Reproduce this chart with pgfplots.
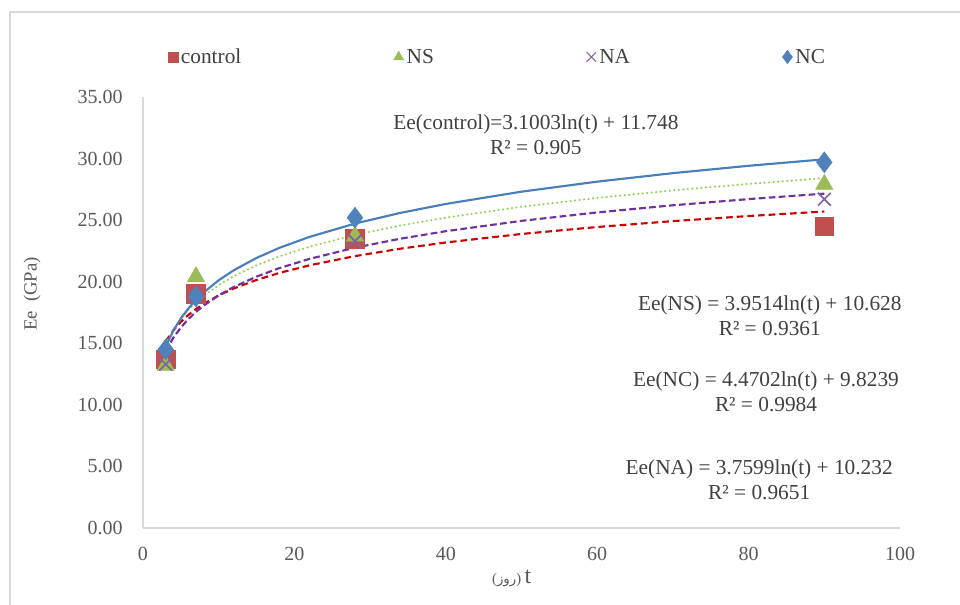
\documentclass[border=0pt]{standalone}
\usepackage{pgfplots}
\pgfplotsset{compat=1.18}
\usepackage{pgfplotstable}
\usepackage{fontspec}
\setmainfont{Liberation Serif}
\newfontfamily\arabicfont[Script=Arabic]{DejaVu Sans}
\TeXXeTstate=1

\definecolor{ctrlred}{HTML}{C0504D}
\definecolor{nsgreen}{HTML}{9BBB59}
\definecolor{napurple}{HTML}{8064A2}
\definecolor{ncblue}{HTML}{4F81BD}
\definecolor{trendred}{HTML}{CC0000}
\definecolor{trendgreen}{HTML}{92D050}
\definecolor{trendpurple}{HTML}{7030A0}
\definecolor{trendblue}{HTML}{4A7EBB}
\definecolor{axisgray}{HTML}{D9D9D9}
\definecolor{tickgray}{HTML}{595959}
\definecolor{textgray}{HTML}{404040}

% measured modulus (GPa) at each age t (days)
\pgfplotstableread{
t   control  NS    NA    NC
3   13.7     13.2  13.3  14.5
7   19.0     20.4  18.8  18.8
28  23.5     23.7  23.3  25.2
90  24.5     27.9  26.7  29.7
}\measured

% logarithmic trend lines evaluated from the fitted equations
\pgfplotstableread{
t   control  NS      NA      NC
3   15.154   14.969  14.363  14.735
4   16.046   16.106  15.444  16.021
5   16.738   16.987  16.283  17.018
6   17.303   17.708  16.969  17.834
7   17.781   18.317  17.548  18.522
8   18.195   18.845  18.050  19.119
10  18.887   19.726  18.890  20.117
12  19.452   20.447  19.575  20.932
15  20.144   21.329  20.414  21.930
18  20.709   22.049  21.100  22.745
22  21.331   22.842  21.854  23.641
28  22.079   23.795  22.761  24.720
34  22.681   24.562  23.491  25.588
40  23.185   25.204  24.102  26.314
50  23.876   26.086  24.941  27.311
60  24.442   26.806  25.626  28.126
70  24.920   27.415  26.206  28.816
80  25.333   27.943  26.708  29.412
90  25.699   28.408  27.151  29.939
}\trend

\begin{document}
\begin{tikzpicture}
\path[use as bounding box] (-107.25pt,-57.75pt) rectangle (612.75pt,396pt);
\begin{axis}[
  at={(0pt,0pt)}, anchor=south west,
  scale only axis, width=567.75pt, height=323.25pt,
  xmin=0, xmax=100, ymin=0, ymax=35,
  axis x line*=bottom, axis y line*=left,
  axis line style={draw=axisgray, line width=0.9pt},
  xtick={0,20,...,100}, ytick={0,5,...,35},
  major tick length=0pt,
  /pgf/number format/assume math mode=true,
  tick label style={font=\fontsize{15}{18}\selectfont, text=tickgray, inner sep=0pt},
  yticklabel style={anchor=east, xshift=-15pt,
    /pgf/number format/.cd, fixed, fixed zerofill, precision=2},
  xticklabel style={anchor=north, yshift=-14pt},
  ylabel={Ee\ \ (GPa)},
  every axis y label/.style={at={(axis description cs:-0.1466,0.543)}, rotate=90, anchor=center,
    font=\fontsize{14}{16}\selectfont, text=tickgray},
  xlabel={{\fontsize{11}{12}\selectfont(}{\arabicfont\fontsize{10}{12}\selectfont\beginR روز\endR}{\fontsize{11}{12}\selectfont)}\ {\fontsize{18}{20}\selectfont t}},
  every axis x label/.style={at={(axis description cs:0.487,-0.118)}, anchor=center, text=tickgray},
  clip=false,
  legend style={at={(axis description cs:0.0304,1.0928)}, anchor=west, draw=none, fill=none,
    inner sep=0pt, font=\fontsize{16}{19}\selectfont, text=textgray,
    nodes={inner sep=1pt},
    /tikz/every odd column/.append style={column sep=0pt},
    /tikz/every even column/.append style={column sep=112pt}},
  legend columns=4,
  legend cell align=left,
  legend image code/.code={\path[draw=none, fill=none] (-5pt,-5pt) rectangle (5pt,5pt);
    \draw[#1] plot coordinates {(0pt,0pt)};},
]
% legend entries
\addlegendimage{only marks, mark=square*, mark size=3.75pt, ctrlred, draw=ctrlred}
\addlegendentry{control}
\addlegendimage{only marks, mark=triangle*, mark size=4.3pt, nsgreen, draw=nsgreen}
\addlegendentry{NS}
\addlegendimage{only marks, mark=x, mark size=5pt, napurple, line width=0.8pt}
\addlegendentry{NA}
\addlegendimage{only marks, mark=diamond*, mark size=5pt, ncblue, draw=ncblue}
\addlegendentry{NC}

% measured points
\addplot[forget plot, only marks, mark=square*, mark size=7pt, color=ctrlred, fill=ctrlred]
  table[x=t, y=control] {\measured};
\addplot[forget plot, only marks, mark=triangle*, mark size=7.5pt, color=nsgreen, fill=nsgreen]
  table[x=t, y=NS] {\measured};
\addplot[forget plot, only marks, mark=x, mark size=6.8pt, color=napurple, mark options={line width=1.3pt}]
  table[x=t, y=NA] {\measured};
\addplot[forget plot, only marks, mark=diamond*, mark size=7.8pt, color=ncblue, fill=ncblue]
  table[x=t, y=NC] {\measured};

% trend lines
\addplot[forget plot, no marks, trendred, line width=1.6pt, dash pattern=on 5pt off 3pt]
  table[x=t, y=control] {\trend};
\addplot[forget plot, no marks, trendgreen, line width=1.8pt, line cap=round, dash pattern=on 0pt off 3.4pt]
  table[x=t, y=NS] {\trend};
\addplot[forget plot, no marks, trendpurple, line width=1.6pt, dash pattern=on 5pt off 2.5pt]
  table[x=t, y=NA] {\trend};
\addplot[forget plot, no marks, trendblue, line width=1.6pt]
  table[x=t, y=NC] {\trend};

% fitted equations
\begin{scope}[every node/.style={align=center, text=textgray, font=\fontsize{16}{18.75}\selectfont}]
\node at (axis cs:51.9,31.97) {Ee(control)=3.1003ln(t) + 11.748\\R² = 0.905};
\node at (axis cs:82.8,17.22) {Ee(NS) = 3.9514ln(t) + 10.628\\R² = 0.9361};
\node at (axis cs:82.3,11.05) {Ee(NC) = 4.4702ln(t) + 9.8239\\R² = 0.9984};
\node at (axis cs:81.4,3.90) {Ee(NA) = 3.7599ln(t) + 10.232\\R² = 0.9651};
\end{scope}
\end{axis}
% chart area frame
\draw[axisgray, line width=1.2pt] (-99.75pt,-57.75pt) -- (-99.75pt,387pt) -- (612.75pt,387pt);
\end{tikzpicture}
\end{document}
